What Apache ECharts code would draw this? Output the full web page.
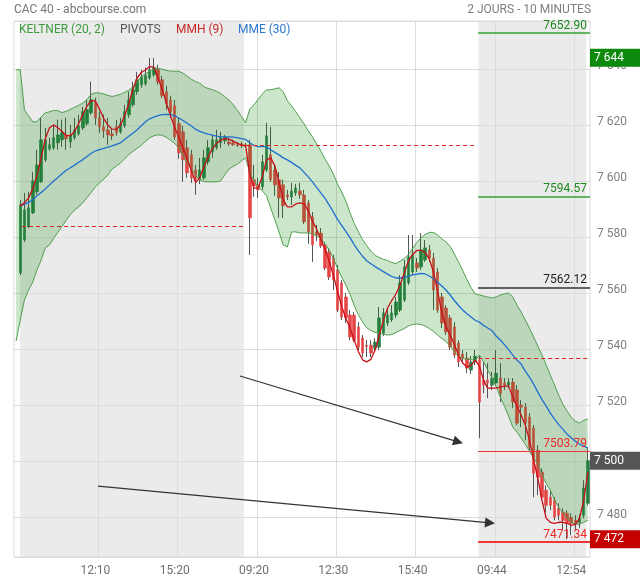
<!DOCTYPE html>
<html><head><meta charset="utf-8">
<script src="https://cdn.jsdelivr.net/npm/echarts@6/dist/echarts.min.js"></script>
<style>html,body{margin:0;padding:0;background:#fff}#c{width:640px;height:580px}</style>
</head><body><div id="c"></div>
<script>
// ---------- DATA ----------
// sessions: [first bar time, number of 10-minute bars]
const sessions = [['09:00', 55], ['09:00', 56], ['09:14', 27]];
const tickIdx = [19, 38, 57, 76, 95, 114, 133];

// candles: [open, close, low, high]
const ohlc = [null,
[7567.3,7591.5,7566.5,7593.3],[7579.0,7589.75,7578.3,7595.8],[7583.7,7590.5,7583.3,7596.2],[7588.7,7600.1,7588.3,7603.3],
[7596.2,7605.8,7595.1,7611.2],[7599.75,7614.75,7599.4,7622.6],[7607.6,7614.75,7606.9,7619.0],[7611.5,7613.0,7610.8,7615.5],
[7611.9,7615.5,7611.2,7619.75],[7613.7,7616.5,7611.2,7621.9],[7614.75,7617.25,7612.25,7621.9],[7616.5,7615.1,7611.2,7622.6],
[7614.0,7616.5,7611.9,7620.1],[7615.5,7618.3,7614.75,7622.6],[7616.9,7619.75,7616.2,7623.7],[7619.0,7624.75,7618.3,7626.5],
[7620.5,7625.5,7619.75,7629.0],[7624.4,7629.0,7623.7,7635.5],[7628.0,7622.6,7620.1,7629.75],[7622.6,7619.4,7617.25,7624.75],
[7619.4,7617.9,7615.5,7623.7],[7618.3,7616.5,7613.0,7622.6],[7616.9,7616.2,7614.75,7619.0],[7619.4,7617.25,7616.2,7621.9],
[7617.6,7620.5,7616.9,7622.6],[7619.75,7624.75,7619.0,7627.25],[7623.7,7629.0,7622.6,7631.9],[7627.25,7632.6,7626.5,7635.5],
[7631.9,7636.2,7630.8,7639.0],[7634.4,7637.25,7633.3,7639.75],[7634.75,7637.6,7634.0,7640.5],[7636.9,7639.75,7636.2,7644.0],
[7638.0,7640.5,7637.25,7644.0],[7639.75,7635.5,7634.4,7641.5],[7636.2,7630.5,7629.75,7637.6],[7631.9,7627.6,7625.5,7634.0],
[7629.0,7624.75,7622.6,7630.5],[7626.9,7615.8,7614.75,7629.0],[7620.5,7610.1,7608.0,7622.6],[7617.6,7607.6,7599.75,7619.75],
[7611.9,7603.0,7601.2,7614.75],[7609.4,7601.2,7599.4,7611.2],[7604.0,7600.5,7595.1,7605.8],[7600.5,7604.0,7599.0,7608.3],
[7601.2,7608.3,7600.5,7611.2],[7606.9,7611.9,7605.8,7614.75],[7610.5,7614.75,7608.3,7616.5],[7611.9,7614.75,7611.2,7618.3],
[7613.7,7615.8,7611.9,7617.6],[7614.4,7615.8,7613.3,7616.5],[7614.0,7613.3,7612.6,7615.5],[7613.7,7613.0,7612.6,7614.75],
[7613.0,7612.8,7612.25,7614.0],[7613.3,7612.6,7611.9,7614.0],[7613.0,7612.6,7612.25,7613.7],
[7613.0,7586.9,7573.7,7614.75],[7600.5,7598.3,7594.4,7605.8],[7598.7,7596.9,7594.0,7601.2],[7598.0,7606.9,7596.9,7609.4],
[7604.0,7616.2,7603.3,7620.8],[7609.4,7600.5,7599.75,7619.4],[7604.0,7598.7,7594.75,7605.8],[7600.5,7594.0,7586.9,7603.3],
[7598.7,7591.2,7586.9,7600.5],[7595.1,7594.4,7593.3,7596.9],[7594.4,7596.5,7591.5,7599.4],[7595.8,7597.6,7594.75,7599.0],
[7596.5,7595.1,7593.7,7599.4],[7595.1,7585.5,7584.75,7596.9],[7592.25,7581.9,7577.6,7593.3],[7587.25,7577.25,7571.2,7589.0],
[7581.9,7580.8,7578.7,7584.4],[7581.5,7576.9,7576.2,7583.3],[7577.25,7569.0,7568.3,7578.3],[7574.75,7565.8,7564.75,7576.2],
[7572.6,7564.75,7561.2,7573.7],[7568.3,7554.0,7553.3,7570.1],[7563.7,7551.5,7550.5,7564.75],[7558.7,7551.2,7549.4,7560.1],
[7552.25,7544.4,7543.3,7554.0],[7552.25,7543.3,7542.6,7553.3],[7548.0,7540.8,7539.75,7549.75],[7544.0,7538.7,7537.25,7545.1],
[7541.4,7541.0,7537.25,7543.3],[7541.5,7538.7,7537.25,7543.3],[7540.5,7542.6,7539.0,7544.0],[7540.8,7551.2,7539.75,7555.1],
[7545.8,7553.0,7544.75,7554.75],[7549.4,7552.25,7548.3,7554.0],[7550.5,7553.0,7549.75,7555.8],[7552.25,7556.9,7551.2,7558.7],
[7554.0,7563.7,7553.3,7566.5],[7557.6,7569.4,7556.9,7571.9],[7563.7,7573.0,7563.0,7580.8],[7567.6,7573.7,7566.5,7580.8],
[7570.8,7569.0,7567.6,7572.6],[7569.4,7575.5,7568.3,7581.5],[7571.9,7576.2,7571.2,7579.0],[7575.5,7572.6,7571.2,7577.25],
[7572.6,7561.2,7554.0,7574.4],[7567.6,7554.0,7553.0,7569.0],[7558.7,7549.4,7547.6,7560.1],[7554.75,7546.2,7545.1,7555.8],
[7551.2,7540.8,7539.75,7552.25],[7548.0,7538.0,7536.9,7549.75],[7542.25,7535.5,7533.7,7543.3],[7538.3,7536.9,7535.5,7539.75],
[7536.9,7533.3,7531.5,7539.0],[7532.6,7535.5,7531.2,7537.6],[7535.5,7537.6,7534.4,7539.75],
[7536.2,7521.2,7508.3,7538.0],[7529.0,7527.25,7524.4,7535.5],[7529.0,7528.0,7522.6,7535.1],[7527.25,7529.75,7525.5,7532.0],
[7528.0,7531.5,7526.9,7539.75],[7529.75,7524.4,7521.2,7535.1],[7528.0,7527.25,7525.5,7529.75],[7527.25,7528.3,7526.2,7529.75],
[7528.3,7521.2,7519.0,7529.75],[7525.5,7513.7,7513.0,7527.25],[7520.1,7519.4,7512.25,7521.9],[7519.4,7513.7,7507.6,7520.8],
[7515.8,7505.1,7504.0,7517.25],[7511.9,7495.8,7487.25,7513.0],[7504.0,7494.4,7488.0,7505.8],[7496.2,7487.25,7486.2,7497.6],
[7489.75,7484.4,7481.9,7491.5],[7487.25,7484.4,7482.6,7489.75],[7486.2,7480.1,7479.0,7487.25],[7483.3,7480.8,7479.0,7485.1],
[7481.9,7479.0,7475.5,7483.3],[7481.5,7477.9,7472.25,7482.6],[7480.1,7477.9,7473.7,7481.5],[7479.0,7477.9,7475.5,7480.8],
[7478.3,7479.75,7476.2,7481.2],[7480.8,7490.5,7479.75,7493.3],[7485.1,7500.3,7484.4,7504.75]];

const keltnerUpper = [7639.75,7639.75,7625.46,7623.32,7621.18,7621.18,7622.96,7624.39,7624.75,7625.2,
7625.19,7624.48,7624.93,7625.64,7626.36,7627.07,7627.88,7629.22,7631.0,7631.54,
7631.45,7631.09,7630.64,7630.2,7630.55,7631.0,7631.72,7632.43,7633.68,7635.47,
7637.25,7638.32,7639.22,7640.1,7640.29,7639.93,7639.57,7639.22,7639.22,7639.22,
7638.5,7637.43,7636.36,7635.55,7634.93,7633.68,7633.05,7632.7,7632.07,7631.36,
7630.11,7628.95,7627.34,7625.29,7623.14,7620.82,7625.82,7627.25,7629.22,7631.09,
7632.61,7632.61,7632.96,7633.32,7631.89,7628.68,7626.89,7624.75,7622.61,7620.46,
7617.96,7615.82,7613.32,7610.82,7607.96,7605.46,7602.61,7599.04,7596.18,7592.97,
7588.77,7585.02,7581.9,7579.22,7577.07,7575.02,7573.5,7572.78,7572.16,7571.71,
7571.0,7570.64,7571.45,7572.43,7573.86,7576.0,7578.15,7579.75,7581.0,7581.72,
7581.72,7580.83,7579.4,7578.32,7576.71,7574.04,7571.18,7568.15,7564.93,7562.07,
7559.75,7559.39,7559.04,7558.68,7558.32,7558.68,7559.39,7559.75,7560.11,7558.68,
7555.82,7553.32,7550.46,7547.61,7544.39,7541.18,7537.96,7534.39,7530.82,7527.25,
7523.68,7520.46,7517.96,7515.82,7514.39,7513.68,7514.75,7515.11];

const keltnerLower = [7542.96,7550.46,7557.61,7561.18,7564.04,7568.32,7571.89,7576.18,7577.25,7579.58,
7581.72,7583.86,7586.0,7588.06,7589.66,7590.82,7592.34,7594.12,7596.0,7597.97,
7599.4,7600.73,7602.17,7604.31,7605.38,7606.45,7607.97,7609.4,7610.65,7611.72,
7612.79,7614.22,7615.47,7616.18,7616.54,7616.36,7615.65,7614.58,7613.5,7611.71,
7609.04,7606.54,7604.39,7601.99,7600.47,7599.84,7599.75,7599.75,7599.75,7600.02,
7602.25,7604.3,7605.28,7606.0,7607.25,7608.3,7602.96,7600.1,7598.05,7596.54,
7594.75,7590.46,7586.18,7581.89,7577.25,7576.54,7581.89,7581.89,7581.54,7581.54,
7581.54,7581.18,7580.46,7579.75,7577.61,7575.46,7572.61,7568.95,7565.83,7562.97,
7559.75,7555.65,7552.34,7549.84,7547.69,7546.71,7546.09,7545.73,7545.37,7545.11,
7545.29,7546.0,7546.72,7547.43,7548.32,7548.86,7549.04,7548.86,7548.32,7547.43,
7546.36,7545.1,7543.86,7542.79,7541.18,7539.04,7537.43,7536.72,7536.54,7536.36,
7536.0,7537.96,7535.46,7532.61,7529.75,7526.89,7522.96,7519.75,7516.18,7512.25,
7510.46,7508.32,7506.18,7503.68,7501.18,7499.04,7495.11,7492.25,7489.75,7486.18,
7483.68,7481.54,7479.75,7478.32,7477.61,7477.61,7478.32,7479.04];

const mmh = ['-',7591.18,7592.25,7594.04,7597.25,7601.89,7608.32,7615.11,7619.04,7620.07,
7619.08,7617.74,7616.36,7616.13,7617.74,7620.6,7623.9,7626.81,7628.81,7628.54,
7625.65,7622.34,7620.02,7618.55,7618.45,7619.93,7623.33,7627.7,7632.79,7636.81,
7638.77,7639.66,7640.9,7640.7,7636.72,7632.88,7627.96,7623.32,7619.22,7615.47,
7611.72,7607.79,7603.86,7599.5,7601.2,7605.06,7608.54,7611.54,7613.46,7614.66,
7615.2,7615.02,7614.26,7613.5,7612.92,7612.5,7602.5,7597.5,7597.6,7601.71,
7607.61,7608.32,7605.46,7599.75,7593.32,7590.82,7590.82,7591.89,7592.25,7591.89,
7589.39,7585.82,7582.96,7579.39,7575.82,7571.54,7566.54,7560.82,7555.38,7551.09,
7547.61,7543.32,7539.22,7536.27,7535.55,7536.44,7539.66,7545.02,7550.29,7554.75,
7557.43,7559.75,7562.96,7567.25,7571.54,7573.86,7575.29,7575.29,7574.58,7572.25,
7567.61,7560.65,7553.15,7548.15,7545.11,7541.72,7537.97,7535.11,7533.68,7534.39,
7536.18,7534.04,7529.04,7526.18,7526.18,7526.18,7526.54,7526.89,7526.89,7522.96,
7519.75,7516.54,7512.96,7507.61,7500.46,7494.04,7486.18,7479.75,7478.32,7477.96,
7478.32,7478.32,7477.96,7477.25,7477.61,7479.75,7486.18,7496.18];

const mme = ['-',7591.36,7591.71,7592.43,7593.32,7594.75,7596.0,7597.25,7598.68,7600.06,
7601.31,7602.61,7603.9,7604.79,7605.73,7606.76,7607.7,7608.81,7609.97,7610.78,
7611.27,7611.67,7612.16,7612.56,7613.1,7613.68,7614.84,7616.0,7617.08,7618.33,
7619.75,7621.18,7622.25,7622.88,7623.41,7623.77,7623.86,7623.77,7623.32,7622.52,
7621.63,7620.65,7619.66,7618.54,7617.79,7617.2,7616.8,7616.45,7616.09,7615.87,
7615.82,7615.82,7615.69,7615.5,7615.2,7614.9,7613.7,7612.79,7612.34,7612.39,
7612.25,7611.18,7610.29,7609.39,7608.32,7607.61,7606.71,7605.64,7604.75,7603.14,
7601.54,7599.75,7597.79,7595.82,7593.86,7591.54,7589.04,7586.36,7584.22,7582.07,
7579.84,7577.38,7575.15,7573.23,7571.62,7570.55,7569.53,7568.64,7567.74,7566.85,
7566.0,7565.46,7565.46,7565.55,7566.09,7566.54,7566.8,7567.07,7566.9,7566.18,
7565.2,7563.95,7562.61,7561.18,7559.39,7557.43,7555.65,7554.04,7552.7,7551.54,
7550.38,7549.75,7548.5,7547.61,7546.71,7544.75,7543.32,7541.71,7539.93,7537.96,
7536.18,7534.75,7532.25,7530.11,7527.61,7524.75,7522.07,7519.75,7517.25,7515.11,
7513.14,7511.54,7509.75,7508.5,7507.25,7506.18,7505.46,7504.75];

const prevClose = [7584.0, 7612.9, 7536.8];              // previous-close (dashed) per session
const pivotLevels = [7652.90, 7594.57, 7562.12, 7503.79, 7471.34];
const arrows = [[[53.64, 7530.5], [105.92, 7507.0]], [[19.62, 7491.2], [113.54, 7478.1]]];

// ---------- LAYOUT / STYLE ----------
const FONT = 'Roboto, "Noto Sans", sans-serif';
const UP = '#2b7d4a', DOWN = '#e64545', WICK = '#555';
const shadeSpans = [[0.94, 54.6], [110.8, 136.6]];
const prevSpans = [[1.42, 54.6], [55.1, 109.7], [110.7, 137.5]];
const pivotSpan = [110.7, 137.5];
const pivotColors = ['#34a034', '#34a034', '#333333', '#f03535', '#f03535'];
const pivotLabelColors = ['#1f8a1f', '#1f8a1f', '#222222', '#f02828', '#f02828'];
const pivotWidths = [1.5, 1.5, 1.5, 1.2, 2];
const DASH_RED = '#e02424';

const categories = [];
sessions.forEach(([start, count]) => {
  const [h, m] = start.split(':').map(Number);
  for (let k = 0; k < count; k++) {
    const t = h * 60 + m + 10 * k;
    categories.push(String(Math.floor(t / 60)).padStart(2, '0') + ':' + String(t % 60).padStart(2, '0'));
  }
});
const N = categories.length;

const fmtK = v => { const s = String(Math.round(v)); return s.slice(0, s.length - 3) + ' ' + s.slice(-3); };
const wickData = ohlc.map(d => d ? d : ['-', '-', '-', '-']);
const bodyData = ohlc.map(d => d ? [d[0], d[1], Math.min(d[0], d[1]), Math.max(d[0], d[1])] : ['-', '-', '-', '-']);
const bandDiff = keltnerUpper.map((u, i) => +(u - keltnerLower[i]).toFixed(2));

const valid = ohlc.filter(Boolean);
const hi = Math.max(...valid.map(d => d[3]));
const lo = Math.min(...valid.map(d => d[2]));
const last = valid[valid.length - 1][1];
const tags = [[hi, '#0d8a0d'], [last, '#555555'], [lo, '#c40000']];

const chart = echarts.init(document.getElementById('c'), null, { renderer: 'canvas' });
const txt = (c) => ({ fontSize: 12, fontWeight: 'normal', color: c, fontFamily: FONT });

chart.setOption({
  animation: false,
  backgroundColor: '#fff',
  title: [
    { text: 'CAC 40 - abcbourse.com', left: 14, top: 4, padding: 0, textStyle: txt('#777') },
    { text: '2 JOURS - 10 MINUTES', right: 49, top: 4, padding: 0, textStyle: txt('#808080') },
    { text: 'KELTNER (20, 2)', left: 19, top: 24, padding: 0, textStyle: txt('#3d9b3d') },
    { text: 'PIVOTS', left: 120, top: 24, padding: 0, textStyle: txt('#555') },
    { text: 'MMH (9)', left: 176, top: 24, padding: 0, textStyle: txt('#c62828') },
    { text: 'MME (30)', left: 238, top: 24, padding: 0, textStyle: txt('#2b78d0') }
  ],
  grid: { left: 14, right: 50, top: 21, bottom: 23, show: true, borderColor: '#d9d9d9', borderWidth: 1, backgroundColor: 'transparent', z: 1.5 },
  xAxis: [
    { type: 'category', data: categories, boundaryGap: true, z: 1.5,
      axisLine: { show: false }, axisTick: { show: false }, splitLine: { show: false },
      axisLabel: { interval: (i) => tickIdx.includes(i), color: '#707070', fontSize: 12, fontFamily: FONT, margin: 8 } },
    { type: 'value', min: -0.5, max: N - 0.5, show: false }
  ],
  yAxis: {
    type: 'value', position: 'right', min: 7465.93, max: 7657.14, splitNumber: 10, minInterval: 20, maxInterval: 20, z: 1.5,
    axisLine: { show: false }, axisTick: { show: false },
    splitLine: { lineStyle: { color: '#dcdcdc', width: 1 } },
    axisLabel: { showMinLabel: false, showMaxLabel: false, color: '#808080', fontSize: 12, fontFamily: FONT, margin: 7,
      formatter: v => (Math.abs(v % 20) < 1e-6 ? '{a|' + fmtK(v) + '}' : ''),
      rich: { a: { color: '#808080', fontSize: 12, fontFamily: FONT, padding: [0, 0, 6, 0] } } }
  },
  series: [
    { type: 'line', xAxisIndex: 1, data: [], silent: true,
      markArea: { silent: true, z: 1, itemStyle: { color: '#ebebeb' },
        data: shadeSpans.map(([a, b]) => [{ xAxis: a }, { xAxis: b }]) },
      markLine: { silent: true, z: 1.4, symbol: 'none', label: { show: false },
        lineStyle: { color: '#dcdcdc', width: 1, type: 'solid' },
        data: tickIdx.map(i => ({ xAxis: i + 0.7 })) } },
    { name: 'wicks', type: 'candlestick', data: wickData, barWidth: 0.5, z: 2, silent: true,
      itemStyle: { color: WICK, color0: WICK, borderColor: WICK, borderColor0: WICK, borderColorDoji: WICK, borderWidth: 1 } },
    { name: 'bodies', type: 'candlestick', data: bodyData, barWidth: 3, z: 2.1, silent: true,
      itemStyle: { color: UP, color0: DOWN, borderColor: UP, borderColor0: DOWN, borderColorDoji: DOWN, borderWidth: 0.6 } },
    { name: 'kBase', type: 'line', data: keltnerLower, stack: 'kc', symbol: 'none', silent: true, z: 3,
      lineStyle: { opacity: 0 } },
    { name: 'kBand', type: 'line', data: bandDiff, stack: 'kc', symbol: 'none', silent: true, z: 3,
      lineStyle: { opacity: 0 }, areaStyle: { color: 'rgba(0,128,0,0.2)', opacity: 1 } },
    { name: 'KELTNER up', type: 'line', data: keltnerUpper, symbol: 'none', silent: true, z: 3.1,
      lineStyle: { color: '#4f9f4f', width: 1 } },
    { name: 'KELTNER low', type: 'line', data: keltnerLower, symbol: 'none', silent: true, z: 3.1,
      lineStyle: { color: '#4f9f4f', width: 1 } },
    { name: 'MME (30)', type: 'line', data: mme, symbol: 'none', silent: true, z: 3.2,
      lineStyle: { color: '#1f6fd0', width: 1.3 } },
    { name: 'MMH (9)', type: 'line', data: mmh, symbol: 'none', silent: true, z: 3.3,
      lineStyle: { color: '#c8101a', width: 1.3 } },
    { name: 'prevClose', type: 'line', xAxisIndex: 1, data: [], silent: true, clip: false,
      markLine: { silent: true, z: 5, symbol: 'none', label: { show: false },
        lineStyle: { color: DASH_RED, width: 1, type: [4, 3] },
        data: prevClose.map((v, k) => [{ coord: [prevSpans[k][0], v] }, { coord: [prevSpans[k][1], v] }]) } },
    { name: 'PIVOTS', type: 'line', xAxisIndex: 1, data: [], silent: true, clip: false,
      markLine: { silent: true, z: 5, symbol: 'none',
        data: pivotLevels.map((v, k) => [
            { coord: [pivotSpan[0], v], lineStyle: { color: pivotColors[k], width: pivotWidths[k], type: 'solid' },
              label: { show: true, position: 'insideEndTop', distance: [3, 1], formatter: v.toFixed(2),
                color: pivotLabelColors[k], fontSize: 12, fontFamily: FONT } },
            { coord: [pivotSpan[1], v] }]) } },
    { name: 'arrows', type: 'line', xAxisIndex: 1, data: [], silent: true, clip: false,
      markLine: { silent: true, z: 5, symbol: ['none', 'triangle'], symbolSize: 10,
        lineStyle: { color: '#333', width: 1.2, type: 'solid' }, itemStyle: { color: '#222' }, label: { show: false },
        data: arrows.map(([a, b]) => [{ coord: a }, { coord: b }]) } },
    { name: 'tags', type: 'line', xAxisIndex: 1, data: [], silent: true, clip: false,
      markLine: { silent: true, z: 6, symbol: 'none',
        lineStyle: { color: 'rgba(0,0,0,0)', width: 1, opacity: 1 },
        data: tags.map(([v, c]) => [
          { coord: [pivotSpan[1], v],
            label: { show: true, position: 'end', distance: 4, formatter: fmtK(v), color: '#fff', backgroundColor: c, opacity: 1,
              fontSize: 12, fontFamily: FONT, lineHeight: 13, padding: [3, 8, 2, 4], width: 38, align: 'left' } },
          { coord: [N - 0.5, v] }]) } }
  ]
});
</script>
</body></html>
